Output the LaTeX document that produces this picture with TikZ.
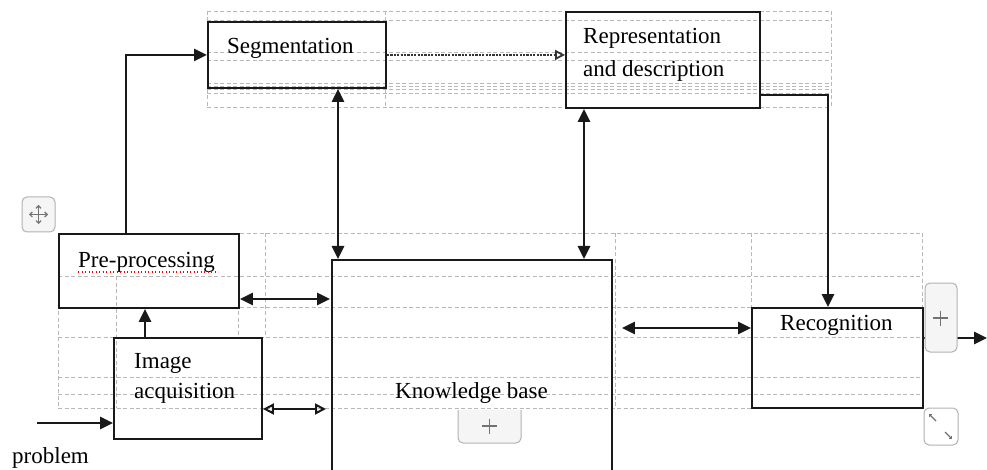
\documentclass[tikz,border=0pt]{standalone}
\usepackage{fontspec}
\setmainfont{Liberation Serif}
\usetikzlibrary{arrows.meta,calc}
\begin{document}
\begin{tikzpicture}[x=1pt,y=-1pt,
  box/.style={draw=black!90, line width=1.9pt, inner sep=0pt, anchor=north west},
  lbl/.style={anchor=base west, inner sep=0pt, font=\fontsize{23}{28}\selectfont},
  gridln/.style={draw=black!28, dash pattern=on 4pt off 2.5pt, line width=0.9pt},
  arr/.style={draw=black!90, line width=2.6pt, -{Triangle[length=13pt,width=12pt]}},
  darr/.style={draw=black!90, line width=2.6pt, {Triangle[length=13pt,width=12pt]}-{Triangle[length=13pt,width=12pt]}},
  oarr/.style={draw=black!90, line width=2pt, {Triangle[open,length=11pt,width=11pt,line width=2pt]}-{Triangle[open,length=11pt,width=11pt,line width=2pt]}},
  dasharr/.style={draw=black!80, line width=2.2pt, dash pattern=on 2.2pt off 1.2pt, -{Triangle[open,length=10pt,width=10pt,line width=1.8pt]}},
  widget/.style={draw=black!30, fill=black!4, line width=1pt, rounded corners=5pt},
  icon/.style={draw=black!55, line width=1.2pt}
]
\useasboundingbox (0,0) rectangle (987,470);
\fill[white] (0,0) rectangle (987,470);

% ---- faint table gridlines ----
\foreach \yy in {11,20,52,60,83,86,89,93,107}
  \draw[gridln] (207,\yy) -- (831,\yy);
\foreach \xx in {207,385,831}
  \draw[gridln] (\xx,11) -- (\xx,107);
\foreach \yy in {233,276,307,337,377,394,408}
  \draw[gridln] (58,\yy) -- (922,\yy);
\draw[gridln] (58,233) -- (58,408);
\draw[gridln] (116,276) -- (116,408);
\draw[gridln] (238,233) -- (238,337);
\draw[gridln] (265,233) -- (265,337);
\draw[gridln] (615,233) -- (615,408);
\draw[gridln] (751,233) -- (751,307);
\draw[gridln] (922,233) -- (922,307);

% ---- boxes ----
\node[box, minimum width=178pt, minimum height=66pt] (seg) at (207,21) {};
\node[box, minimum width=194pt, minimum height=96pt] (rep) at (565,11) {};
\node[box, minimum width=180pt, minimum height=74pt] (pre) at (58,233) {};
\node[box, minimum width=148pt, minimum height=101pt] (img) at (113,337) {};
\node[box, minimum width=280pt, minimum height=240pt] (kb) at (331,259) {};
\node[box, minimum width=171pt, minimum height=100pt] (rec) at (751,307) {};

% ---- labels ----
\node[lbl] (tseg) at (227,54) {Segmentation};
\node[lbl] (trep1) at (583,44) {Representation};
\node[lbl] (trep2) at (583,77) {and description};
\node[lbl] (tpre) at (78,268) {Pre-processing};
\node[lbl] (timg1) at (134,368) {Image};
\node[lbl] (timg2) at (134,398) {acquisition};
\node[lbl] (tkb) at (395,398) {Knowledge base};
\node[lbl] (trec) at (780,330) {Recognition};
\node[lbl] (tprob) at (12,463) {problem};
\draw[red, line width=1.3pt, dash pattern=on 1.3pt off 2.2pt] (78,272) -- (218,272);

% ---- connectors ----
\coordinate (c1) at ([xshift=68pt]pre.north west);
\draw[arr] (c1) |- (seg.west);
\draw[dasharr] (seg.east) -- (seg.east -| rep.west);
\coordinate (c3) at ([xshift=131pt]seg.south west);
\draw[darr] (c3) -- (c3 |- kb.north);
\coordinate (c4) at ([xshift=19pt]rep.south west);
\draw[darr] (c4) -- (c4 |- kb.north);
\coordinate (c5) at ([yshift=14pt]rep.south east);
\coordinate (c5b) at ([xshift=77pt]rec.north west);
\draw[arr] (c5) -| (c5b);
\coordinate (c6) at ([yshift=-21pt]rec.north west);
\draw[darr, shorten >=9pt] (c6) -- (c6 -| kb.east);
\coordinate (c7) at ([yshift=-31pt]rec.north east);
\coordinate (out) at (987,338);
\draw[arr] (c7) -- (out);
\coordinate (c8) at ([yshift=-66pt]pre.north east);
\draw[darr, shorten >=1pt] (c8) -- (c8 -| kb.west);
\coordinate (c9) at ([xshift=32pt]img.north west);
\draw[arr] (c9) -- (c9 |- pre.south);
\coordinate (c10) at ([yshift=-72pt]img.north east);
\draw[oarr, shorten >=5pt] (c10) -- (c10 -| kb.west);
\coordinate (prob) at (37,423);
\draw[arr] (prob) -- (prob -| img.west);

% ---- editor widgets ----
\draw[widget] (22,197) rectangle (55,232);
\draw[icon, <->, >={Straight Barb[length=2.5pt,width=5pt]}] (29,214.5) -- (48,214.5);
\draw[icon, <->, >={Straight Barb[length=2.5pt,width=5pt]}] (38.5,205) -- (38.5,224);
\draw[widget] (925,283) rectangle (957,352);
\draw[icon, line width=1.3pt] (933,318) -- (948,318) (940.5,310.5) -- (940.5,325.5);
\draw[widget, fill=white] (924,408) rectangle (958,445);
\draw[icon, ->, >={Straight Barb[length=2pt,width=4pt]}] (936,421) -- (929,414);
\draw[icon, ->, >={Straight Barb[length=2pt,width=4pt]}] (945,432) -- (952,439);
\draw[widget] (458,410) -- (458,443) -- (521,443) -- (521,410);
\draw[icon, line width=1.3pt] (482,426) -- (497,426) (489.5,418.5) -- (489.5,433.5);
\end{tikzpicture}
\end{document}
